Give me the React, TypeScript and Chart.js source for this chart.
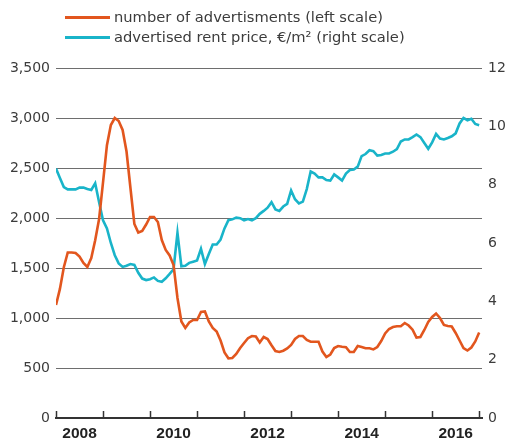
import React, { useEffect, useRef } from "react";
import { Chart, registerables } from "chart.js";

Chart.register(...registerables);

const startYear = 2008;
const yearTicks = [2008, 2009, 2010, 2011, 2012, 2013, 2014, 2015, 2016, 2017];
const yearLabels = [2008.5, 2010.5, 2012.5, 2014.5, 2016.5];

const adsLabel = "number of advertisments (left scale)";
const rentLabel = "advertised rent price, €/m² (right scale)";

// monthly, Jan 2008 .. Jan 2017
const adsValues = [
  1130, 1291, 1508, 1655, 1655, 1650, 1614, 1550, 1511, 1600, 1777, 1990,
  2356, 2728, 2930, 3000, 2970, 2880, 2665, 2300, 1940, 1855, 1870, 1935,
  2010, 2010, 1960, 1780, 1680, 1625, 1530, 1200, 965, 900, 955, 980,
  980, 1060, 1065, 965, 900, 865, 775, 655, 597, 600, 640, 700,
  750, 798, 820, 815, 755, 810, 790, 727, 670, 660, 673, 695,
  730, 790, 820, 820, 780, 763, 763, 763, 665, 610, 635, 700,
  720, 713, 708, 660, 660, 720, 710, 697, 697, 686, 710, 770,
  846, 890, 910, 918, 918, 950, 925, 883, 805, 810, 880, 960,
  1010, 1045, 1000, 930, 920, 915, 850, 775, 700, 675, 705, 765,
  855,
];

const rentValues = [
  8.55, 8.23, 7.92, 7.84, 7.84, 7.84, 7.9, 7.9, 7.85, 7.82, 8.05, 7.4,
  6.78, 6.5, 6.0, 5.58, 5.3, 5.18, 5.22, 5.28, 5.25, 4.98, 4.78, 4.73,
  4.76, 4.82, 4.7, 4.67, 4.79, 4.94, 5.1, 6.35, 5.2, 5.22, 5.32, 5.36,
  5.4, 5.8, 5.28, 5.62, 5.95, 5.95, 6.12, 6.5, 6.78, 6.81, 6.87, 6.85,
  6.78, 6.82, 6.78, 6.85, 7.0, 7.1, 7.21, 7.4, 7.15, 7.1, 7.25, 7.34,
  7.8, 7.5, 7.36, 7.42, 7.85, 8.45, 8.38, 8.25, 8.25, 8.16, 8.14, 8.35,
  8.25, 8.14, 8.38, 8.5, 8.52, 8.62, 8.98, 9.05, 9.18, 9.15, 9.0, 9.02,
  9.07, 9.07, 9.13, 9.22, 9.48, 9.55, 9.55, 9.63, 9.72, 9.63, 9.43, 9.23,
  9.45, 9.74, 9.58, 9.55, 9.6, 9.66, 9.76, 10.1, 10.29, 10.21, 10.26, 10.08,
  10.04,
];

const ORANGE = "#e2561e";
const CYAN = "#19b4c9";
const TEXT = "#3c3c3c";
const FONT = "'DejaVu Sans', sans-serif";

const yearTickPlugin = {
  id: "yearTicks",
  afterDraw(chart: any) {
    const xs = chart.scales.x;
    const ctx = chart.ctx;
    const bottom = chart.chartArea.bottom;
    ctx.save();
    ctx.strokeStyle = "#333";
    ctx.lineWidth = 1.5;
    yearTicks.forEach((yr) => {
      const px = Math.round(xs.getPixelForValue(yr)) + 0.5;
      ctx.beginPath();
      ctx.moveTo(px, bottom);
      ctx.lineTo(px, bottom - 7);
      ctx.stroke();
    });
    ctx.restore();
  },
};

export default function App() {
  const ref = useRef<HTMLCanvasElement | null>(null);

  useEffect(() => {
    if (!ref.current) return;
    const chart = new Chart(ref.current, {
      type: "line",
      data: {
        datasets: [
          {
            label: adsLabel,
            data: adsValues.map((v, i) => ({ x: startYear + i / 12, y: v })),
            borderColor: ORANGE,
            borderWidth: 2.6,
            pointRadius: 0,
            tension: 0,
            yAxisID: "y",
          },
          {
            label: rentLabel,
            data: rentValues.map((v, i) => ({ x: startYear + i / 12, y: v })),
            borderColor: CYAN,
            borderWidth: 2.6,
            pointRadius: 0,
            tension: 0,
            yAxisID: "y1",
          },
        ],
      },
      options: {
        responsive: false,
        animation: false,
        devicePixelRatio: 1,
        layout: { padding: { top: 68, left: 0, right: 0, bottom: 0 } },
        plugins: { legend: { display: false }, tooltip: { enabled: false } },
        scales: {
          x: {
            type: "linear",
            min: 2008,
            max: 2017.06,
            grid: { display: false },
            border: { display: true, color: "#333", width: 2 },
            afterBuildTicks: (s: any) => {
              s.ticks = yearLabels.map((v) => ({ value: v }));
            },
            afterFit: (s: any) => {
              s.height = 26;
            },
            ticks: {
              autoSkip: false,
              maxRotation: 0,
              padding: -2,
              color: "#222",
              font: { family: "'Liberation Sans', Arial, sans-serif", size: 15.5, weight: "bold" },
              callback: (v: any) => String(Math.floor(Number(v))),
            },
          },
          y: {
            position: "left",
            min: 0,
            max: 3500,
            grid: { color: "#6e6e6e", lineWidth: 1, drawTicks: false },
            border: { display: false },
            afterFit: (s: any) => {
              s.width = 56;
            },
            ticks: {
              stepSize: 500,
              padding: 6,
              color: TEXT,
              font: { family: FONT, size: 14 },
              callback: (v: any) => Number(v).toLocaleString("en-US"),
            },
          },
          y1: {
            position: "right",
            min: 0,
            max: 12,
            grid: { drawOnChartArea: false, drawTicks: false },
            border: { display: false },
            afterFit: (s: any) => {
              s.width = 27;
            },
            ticks: {
              stepSize: 2,
              padding: 6,
              color: TEXT,
              font: { family: FONT, size: 14 },
            },
          },
        },
      },
      plugins: [yearTickPlugin],
    });
    return () => chart.destroy();
  }, []);

  const row = (top: number, color: string, text: string) => (
    <div
      style={{
        position: "absolute",
        left: 65,
        top,
        height: 20,
        display: "flex",
        alignItems: "center",
        whiteSpace: "nowrap",
      }}
    >
      <span style={{ display: "inline-block", width: 45, height: 3, background: color, marginRight: 4 }} />
      <span style={{ fontFamily: FONT, fontSize: 14.7, color: TEXT, lineHeight: "20px" }}>{text}</span>
    </div>
  );

  return (
    <div style={{ position: "fixed", left: 0, top: 0, width: 509, height: 444, background: "#fff" }}>
      <canvas ref={ref} width={509} height={444} style={{ width: 509, height: 444, display: "block" }} />
      {row(7, ORANGE, adsLabel)}
      {row(27, CYAN, rentLabel)}
    </div>
  );
}
